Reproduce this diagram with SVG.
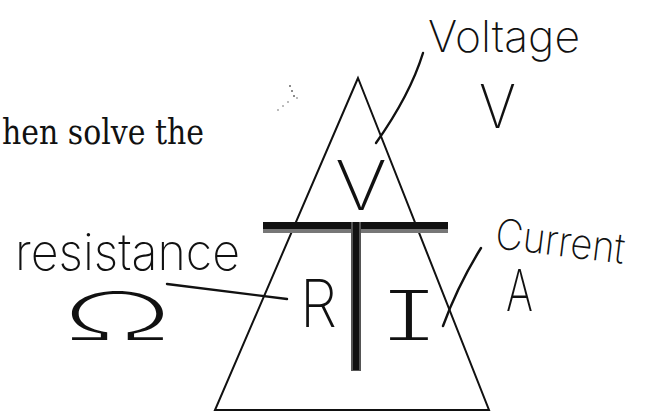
<svg xmlns="http://www.w3.org/2000/svg" width="646" height="415" viewBox="0 0 646 415">
<style>
.hand{font-family:Inter,"Open Sans","Liberation Sans",sans-serif;font-weight:200;fill:#111;font-feature-settings:"cv08";}
.line{fill:none;stroke:#111;stroke-width:2;stroke-linecap:round;}
.lead{fill:none;stroke:#111;stroke-width:2.4;stroke-linecap:round;}
</style>
<rect width="646" height="415" fill="#fff"/>
<text id="caption" x="2" y="144" font-family="'DejaVu Serif','Liberation Serif',serif" font-size="36" fill="#111" textLength="202" lengthAdjust="spacingAndGlyphs">hen solve the</text>
<g id="speck" fill="#666">
<circle cx="290" cy="86" r="1"/><circle cx="292" cy="91" r="1"/><circle cx="294" cy="96" r="1"/><circle cx="297" cy="98" r="0.8"/><circle cx="288" cy="102" r="0.8"/><circle cx="283" cy="106" r="0.8"/><circle cx="278" cy="110" r="0.8"/>
</g>
<g id="triangle">
<polygon points="358,78 215,410 489,410" class="line"/>
</g>
<g id="divider">
<rect x="263" y="222" width="185" height="7" fill="#111"/>
<rect x="263" y="229" width="185" height="4" fill="#777"/>
<rect x="351" y="222" width="10" height="149" fill="#555"/>
<rect x="353" y="222" width="6" height="148" fill="#111"/>
</g>
<g id="node-V">
<text class="hand" x="335" y="210" font-size="68" textLength="52" lengthAdjust="spacingAndGlyphs">V</text>
</g>
<g id="node-R">
<text class="hand" x="300" y="327" font-size="66" textLength="37" lengthAdjust="spacingAndGlyphs">R</text>
</g>
<g id="node-I">
<text class="hand" x="383" y="340" font-size="68" textLength="52" lengthAdjust="spacingAndGlyphs">I</text>
</g>
<g id="label-voltage">
<text class="hand" x="428" y="52" font-size="44" textLength="152" lengthAdjust="spacingAndGlyphs">Voltage</text>
<text class="hand" x="479" y="128" font-size="60" textLength="37" lengthAdjust="spacingAndGlyphs">V</text>
</g>
<g id="label-resistance">
<text class="hand" x="15" y="270" font-size="50" textLength="225" lengthAdjust="spacingAndGlyphs">resistance</text>
<text class="hand" x="62" y="340" font-size="66" textLength="111" lengthAdjust="spacingAndGlyphs">Ω</text>
</g>
<g id="label-current">
<text class="hand" x="494" y="248" font-size="42" textLength="130" lengthAdjust="spacingAndGlyphs" transform="rotate(7 494 248)">Current</text>
<text class="hand" x="506" y="311" font-size="58" textLength="27" lengthAdjust="spacingAndGlyphs">A</text>
</g>
<g id="connectors">
<path class="lead" d="M423,53 Q410,95 376,143"/>
<path class="lead" d="M167,284 Q230,292 287,299"/>
<path class="lead" d="M481,248 Q458,285 443,326"/>
</g>
</svg>
